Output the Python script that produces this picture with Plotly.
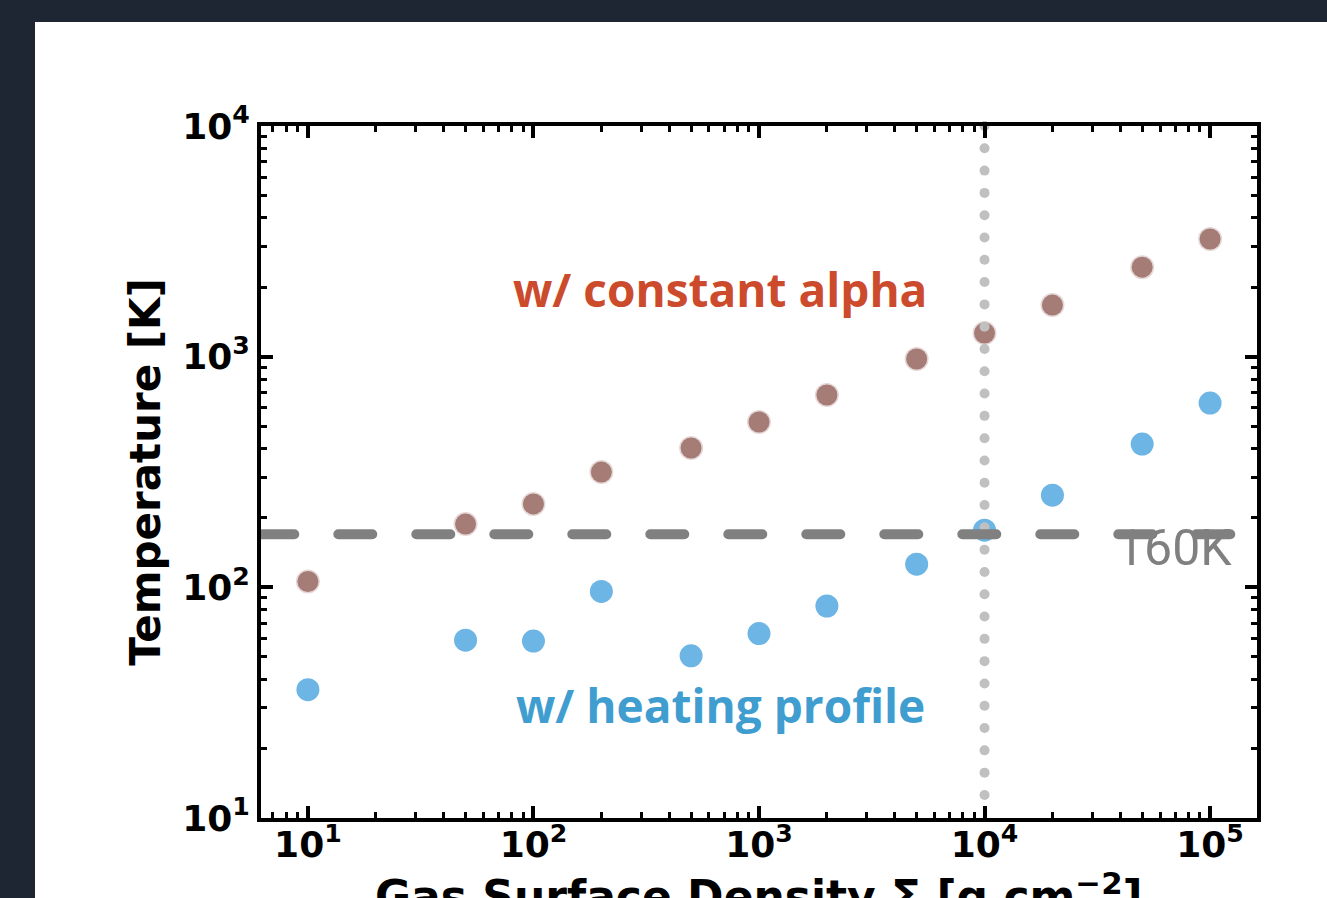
import numpy as np
import plotly.graph_objects as go

# ---- data ----
sigma = [10, 50, 100, 200, 500, 1000, 2000, 5000, 10000, 20000, 50000, 100000]
temp_const_alpha = [106, 188, 230, 316, 402, 521, 682, 977, 1265, 1674, 2443, 3236]
temp_heating = [36, 59, 58.5, 96, 50.5, 63, 83, 126, 177, 251, 418, 629]
t_threshold = 170          # horizontal dashed reference line
threshold_label = "160K"
sigma_divider = 1e4        # vertical dotted reference line
hline_x = [6.15, 1.23e5]
divider_log_span = [4.0, 1.10]
n_divider_dots = 31

x_tickvals = [10, 100, 1000, 10000, 100000]
x_ticktext = ["10<sup>1</sup>", "10<sup>2</sup>", "10<sup>3</sup>", "10<sup>4</sup>", "10<sup>5</sup>"]
y_tickvals = [10, 100, 1000, 10000]
y_ticktext = ["10<sup>1</sup>", "10<sup>2</sup>", "10<sup>3</sup>", "10<sup>4</sup>"]
x_title = "Gas Surface Density Σ [g cm<sup>−2</sup>]"
y_title = "Temperature [K]"

BG_DARK = "#1e2533"
BROWN = "#a67c77"
BLUE = "#6cb5e5"

x_minor = [m * 10 ** d for d in range(0, 6) for m in range(2, 10)]
y_minor = [m * 10 ** d for d in range(1, 4) for m in range(2, 10)]

fig = go.Figure()

fig.add_trace(go.Scatter(
    x=sigma, y=temp_const_alpha, mode="markers",
    marker=dict(size=21, color=BROWN, line=dict(width=3, color="rgba(166,124,119,0.3)")),
    showlegend=False, hoverinfo="skip"))
fig.add_trace(go.Scatter(
    x=sigma, y=temp_heating, mode="markers",
    marker=dict(size=23, color=BLUE, line=dict(width=0)),
    showlegend=False, hoverinfo="skip"))

# vertical dotted line (round dots)
div_y = np.logspace(divider_log_span[0], divider_log_span[1], n_divider_dots)
fig.add_trace(go.Scatter(
    x=[sigma_divider] * n_divider_dots, y=div_y, mode="markers",
    marker=dict(size=10, color="#c0c0c0", line=dict(width=0)),
    cliponaxis=False, showlegend=False, hoverinfo="skip"))

# horizontal dashed threshold line
fig.add_trace(go.Scatter(
    x=hline_x, y=[t_threshold, t_threshold], mode="lines",
    line=dict(color="#808080", width=10, dash="34px,44px"),
    showlegend=False, hoverinfo="skip"))

tickfont = dict(family="DejaVu Sans", size=36, color="black", weight="bold")
axis_common = dict(
    type="log", showgrid=False, zeroline=False,
    showline=True, linecolor="black", linewidth=4, mirror="allticks",
    ticks="inside", ticklen=12, tickwidth=3.5, tickcolor="black",
    tickmode="array", tickfont=tickfont,
)

fig.update_xaxes(
    range=[0.792, 5.208],
    tickvals=x_tickvals, ticktext=x_ticktext, ticklabelstandoff=-8,
    minor=dict(tickmode="array", tickvals=x_minor, ticks="inside", ticklen=6,
               tickwidth=2.5, tickcolor="black", showgrid=False),
    **axis_common)
fig.update_yaxes(
    range=[1, 4],
    tickvals=y_tickvals, ticktext=y_ticktext,
    minor=dict(tickmode="array", tickvals=y_minor, ticks="inside", ticklen=6,
               tickwidth=2.5, tickcolor="black", showgrid=False),
    title=dict(text=y_title,
               font=dict(family="DejaVu Sans", size=42, color="black", weight="bold"),
               standoff=9),
    **axis_common)

# x-axis title (placed as annotation so it may run past the bottom edge, as in the original)
fig.add_annotation(xref="paper", yref="paper", x=0.5, y=(818 - 894) / 692,
                   text=x_title, showarrow=False,
                   xanchor="center", yanchor="middle",
                   font=dict(family="DejaVu Sans", size=44, color="black", weight="bold"))

fig.add_annotation(xref="paper", yref="paper", x=0.461, y=0.764,
                   text="w/ constant alpha", showarrow=False,
                   xanchor="center", yanchor="middle",
                   font=dict(family="Open Sans", size=46, color="#cc4b2c", weight="bold"))
fig.add_annotation(xref="paper", yref="paper", x=0.461, y=0.163,
                   text="w/ heating profile", showarrow=False,
                   xanchor="center", yanchor="middle",
                   font=dict(family="Open Sans", size=46, color="#3f9dd0", weight="bold"))
fig.add_annotation(xref="paper", yref="paper", x=0.977, y=0.39,
                   text=threshold_label, showarrow=False,
                   xanchor="right", yanchor="middle",
                   font=dict(family="Roboto", size=50, color="#808080"))

# white panel on dark page
fig.add_shape(type="rect", xref="paper", yref="paper",
              x0=(35 - 261) / 996, x1=(1327 - 261) / 996,
              y0=(818 - 898) / 692 - 0.01, y1=(818 - 22) / 692,
              fillcolor="white", line=dict(width=0), layer="below")

fig.update_layout(
    width=1327, height=898,
    margin=dict(l=261, r=70, t=126, b=80, autoexpand=False),
    paper_bgcolor=BG_DARK, plot_bgcolor="white",
)

post = """
var gd = document.getElementById('{plot_id}');
function rc(){ gd.querySelectorAll('.scatterlayer .js-line').forEach(function(p){ p.style.strokeLinecap='round'; }); }
rc(); gd.on('plotly_afterplot', rc);
"""
fig.write_html("out.html", post_script=post, config=dict(displayModeBar=False))
